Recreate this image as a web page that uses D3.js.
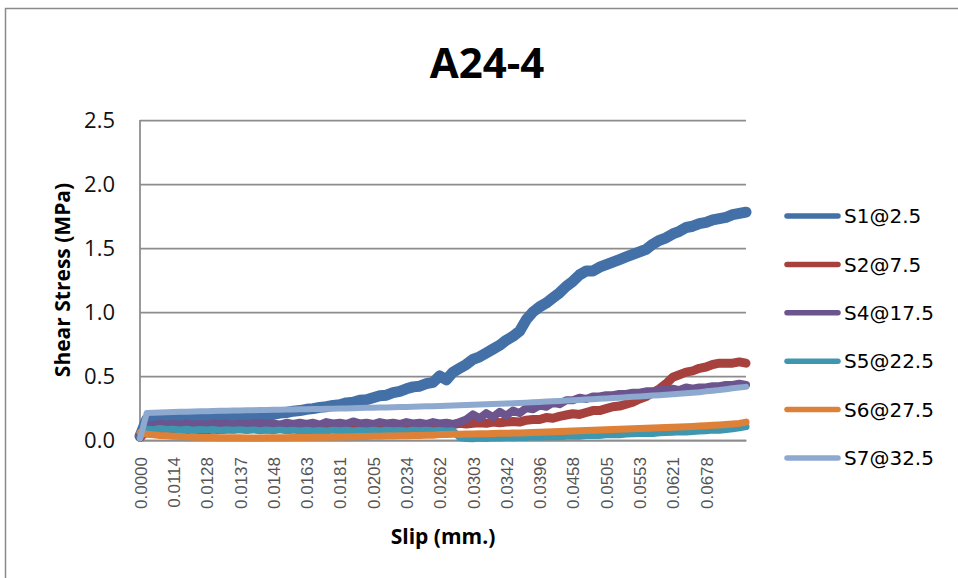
<!DOCTYPE html>
<html>
<head>
<meta charset="utf-8">
<script src="https://cdn.jsdelivr.net/npm/d3@7"></script>
<style>
  html, body { margin: 0; padding: 0; background: #fff; }
  svg { display: block; }
</style>
</head>
<body>
<svg id="chart" width="958" height="578"></svg>
<script>
// Slip labels shown on the category axis (one every 5 samples)
const slipLabels = ["0.0000","0.0114","0.0128","0.0137","0.0148","0.0163","0.0181","0.0205","0.0234",
  "0.0262","0.0303","0.0342","0.0396","0.0458","0.0505","0.0553","0.0621","0.0678"];
const samplesPerLabel = 5;

const seriesNames = ["S1@2.5","S2@7.5","S4@17.5","S5@22.5","S6@27.5","S7@32.5"];
const seriesColors = ["#4470a8","#a6413e","#6c548e","#3f97af","#dd8138","#8ea9d0"];
const seriesWidths = [11, 9, 8, 7, 7, 6];
const yTicks = [0, 0.5, 1.0, 1.5, 2.0, 2.5];

// Shear stress (MPa) per sample
const s1 = [
  0.03, 0.16, 0.165, 0.17, 0.16,
  0.17, 0.165, 0.175, 0.17, 0.18,
  0.175, 0.185, 0.18, 0.19, 0.185,
  0.19, 0.185, 0.195, 0.19, 0.20,
  0.20, 0.21, 0.215, 0.225, 0.23,
  0.24, 0.245, 0.255, 0.26, 0.27,
  0.275, 0.29, 0.295, 0.31, 0.315,
  0.33, 0.345, 0.35, 0.37, 0.38,
  0.40, 0.415, 0.42, 0.44, 0.45,
  0.50, 0.47, 0.53, 0.56, 0.59,
  0.63, 0.65, 0.68, 0.71, 0.74,
  0.78, 0.81, 0.85, 0.94, 1.00,
  1.04, 1.07, 1.11, 1.15, 1.20,
  1.24, 1.29, 1.32, 1.32, 1.35,
  1.37, 1.39, 1.41, 1.43, 1.45,
  1.47, 1.49, 1.53, 1.56, 1.58,
  1.61, 1.63, 1.66, 1.67, 1.69,
  1.70, 1.72, 1.73, 1.74, 1.76,
  1.77, 1.78
];
const s2 = [
  0.02, 0.07, 0.075, 0.07, 0.075,
  0.08, 0.075, 0.08, 0.085, 0.08,
  0.08, 0.085, 0.08, 0.085, 0.085,
  0.09, 0.085, 0.09, 0.09, 0.085,
  0.09, 0.095, 0.09, 0.095, 0.095,
  0.10, 0.095, 0.10, 0.10, 0.105,
  0.10, 0.105, 0.10, 0.11, 0.105,
  0.11, 0.105, 0.11, 0.115, 0.11,
  0.115, 0.11, 0.12, 0.115, 0.12,
  0.12, 0.125, 0.12, 0.13, 0.125,
  0.13, 0.135, 0.13, 0.14, 0.135,
  0.14, 0.145, 0.14, 0.155, 0.16,
  0.16, 0.175, 0.17, 0.185, 0.195,
  0.205, 0.20, 0.215, 0.23, 0.23,
  0.245, 0.26, 0.265, 0.28, 0.295,
  0.32, 0.34, 0.37, 0.40, 0.44,
  0.49, 0.51, 0.53, 0.54, 0.56,
  0.57, 0.59, 0.60, 0.60, 0.60,
  0.61, 0.60
];
const s4 = [
  0.03, 0.12, 0.115, 0.125, 0.12,
  0.125, 0.12, 0.13, 0.12, 0.125,
  0.12, 0.13, 0.125, 0.13, 0.12,
  0.13, 0.125, 0.13, 0.135, 0.125,
  0.13, 0.12, 0.135, 0.125, 0.135,
  0.125, 0.135, 0.12, 0.14, 0.13,
  0.135, 0.125, 0.145, 0.13, 0.135,
  0.125, 0.14, 0.13, 0.135, 0.125,
  0.14, 0.13, 0.135, 0.125, 0.14,
  0.13, 0.135, 0.125, 0.14, 0.16,
  0.20, 0.17, 0.21, 0.18, 0.22,
  0.19, 0.23, 0.21, 0.25, 0.24,
  0.27, 0.26, 0.29, 0.28, 0.31,
  0.31, 0.33, 0.32, 0.34, 0.34,
  0.35, 0.35, 0.36, 0.36, 0.37,
  0.37, 0.38, 0.38, 0.39, 0.39,
  0.40, 0.39, 0.41, 0.40, 0.41,
  0.41, 0.42, 0.42, 0.43, 0.43,
  0.44, 0.43
];
const s5 = [
  0.02, 0.085, 0.08, 0.09, 0.082,
  0.085, 0.078, 0.084, 0.076, 0.082,
  0.078, 0.083, 0.075, 0.08, 0.076,
  0.081, 0.074, 0.079, 0.073, 0.078,
  0.072, 0.079, 0.073, 0.077, 0.071,
  0.076, 0.07, 0.075, 0.071, 0.077,
  0.072, 0.076, 0.07, 0.075, 0.071,
  0.076, 0.071, 0.077, 0.072, 0.075,
  0.071, 0.076, 0.073, 0.077, 0.072,
  0.075, 0.071, 0.073, 0.02, 0.012,
  0.01, 0.015, 0.012, 0.018, 0.015,
  0.02, 0.018, 0.022, 0.02, 0.025,
  0.022, 0.026, 0.028, 0.025, 0.03,
  0.032, 0.03, 0.035, 0.038, 0.036,
  0.04, 0.043, 0.041, 0.046, 0.048,
  0.05, 0.053, 0.051, 0.056, 0.058,
  0.06, 0.064, 0.062, 0.067, 0.07,
  0.073, 0.078, 0.076, 0.082, 0.088,
  0.095, 0.105
];
const s6 = [
  0.06, 0.045, 0.04, 0.035, 0.033,
  0.03, 0.028, 0.025, 0.024, 0.022,
  0.02, 0.02, 0.018, 0.018, 0.017,
  0.017, 0.016, 0.016, 0.016, 0.017,
  0.017, 0.018, 0.018, 0.019, 0.02,
  0.02, 0.021, 0.022, 0.022, 0.023,
  0.024, 0.025, 0.026, 0.027, 0.028,
  0.029, 0.03, 0.031, 0.032, 0.033,
  0.034, 0.035, 0.036, 0.037, 0.038,
  0.042, 0.043, 0.044, 0.045, 0.046,
  0.047, 0.048, 0.049, 0.05, 0.052,
  0.053, 0.054, 0.055, 0.057, 0.058,
  0.06, 0.062, 0.064, 0.066, 0.068,
  0.07, 0.072, 0.074, 0.076, 0.078,
  0.08, 0.082, 0.084, 0.086, 0.088,
  0.09, 0.092, 0.094, 0.096, 0.098,
  0.10, 0.102, 0.104, 0.106, 0.109,
  0.112, 0.115, 0.118, 0.121, 0.125,
  0.13, 0.14
];
const s7 = [
  0.01, 0.21, 0.212, 0.214, 0.216,
  0.218, 0.22, 0.221, 0.222, 0.224,
  0.225, 0.226, 0.228, 0.229, 0.23,
  0.231, 0.232, 0.233, 0.234, 0.235,
  0.236, 0.237, 0.238, 0.239, 0.24,
  0.241, 0.242, 0.243, 0.244, 0.245,
  0.246, 0.247, 0.248, 0.25, 0.251,
  0.252, 0.253, 0.254, 0.256, 0.257,
  0.258, 0.26, 0.261, 0.263, 0.264,
  0.266, 0.268, 0.27, 0.271, 0.273,
  0.275, 0.277, 0.279, 0.281, 0.283,
  0.285, 0.287, 0.29, 0.292, 0.295,
  0.297, 0.30, 0.302, 0.305, 0.308,
  0.31, 0.313, 0.316, 0.319, 0.322,
  0.325, 0.328, 0.331, 0.334, 0.337,
  0.34, 0.343, 0.347, 0.35, 0.354,
  0.357, 0.361, 0.365, 0.369, 0.373,
  0.38, 0.385, 0.39, 0.397, 0.404,
  0.41, 0.415
];
const seriesValues = [s1, s2, s4, s5, s6, s7];

const svg = d3.select("#chart");

// Chart frame
svg.append("rect")
  .attr("x", 5.5).attr("y", 8.5).attr("width", 1000).attr("height", 1000)
  .attr("fill", "#fff").attr("stroke", "#8a8a8a").attr("stroke-width", 1.5);

const plot = { left: 140, right: 746, top: 120, bottom: 440 };

const x = d3.scaleLinear().domain([0, s1.length - 1]).range([plot.left, plot.right]);
const y = d3.scaleLinear().domain([0, 2.5]).range([plot.bottom, plot.top]);

// Horizontal gridlines + value labels
const yAxis = svg.append("g")
  .attr("transform", `translate(${plot.left},0)`)
  .call(d3.axisLeft(y).tickValues(yTicks).tickFormat(d3.format(".1f"))
    .tickSize(-(plot.right - plot.left)).tickPadding(25));
yAxis.select(".domain").remove();
yAxis.selectAll(".tick line").attr("stroke", "#8c8c8c").attr("stroke-width", 1.75);
yAxis.selectAll(".tick text")
  .attr("font-family", "Open Sans").attr("font-size", 22).attr("fill", "#111").attr("dy", "0.34em");

// Vertical axis line
svg.append("line")
  .attr("x1", plot.left).attr("x2", plot.left).attr("y1", plot.top).attr("y2", plot.bottom)
  .attr("stroke", "#8c8c8c").attr("stroke-width", 1.75);

// Category axis with rotated slip labels
const xAxis = svg.append("g")
  .attr("transform", `translate(0,${plot.bottom})`)
  .call(d3.axisBottom(x)
    .tickValues(d3.range(slipLabels.length).map(i => i * samplesPerLabel))
    .tickFormat(d => slipLabels[d / samplesPerLabel])
    .tickSize(0));
xAxis.select(".domain").attr("stroke", "#8c8c8c").attr("stroke-width", 1.75);
xAxis.selectAll(".tick text")
  .attr("transform", "rotate(-90)")
  .attr("text-anchor", "end")
  .attr("x", -17).attr("y", 0).attr("dy", "0.36em")
  .attr("font-family", "Liberation Sans, Arial, sans-serif").attr("font-size", 17).attr("fill", "#555");

// Series lines
const line = d3.line().x((d, i) => x(i)).y(d => y(d));
svg.append("g").selectAll("path")
  .data(seriesValues)
  .join("path")
  .attr("d", line)
  .attr("fill", "none")
  .attr("stroke", (d, i) => seriesColors[i])
  .attr("stroke-width", (d, i) => seriesWidths[i])
  .attr("stroke-linejoin", "round")
  .attr("stroke-linecap", "round");

// Titles
svg.append("text")
  .attr("x", 487).attr("y", 78).attr("text-anchor", "middle")
  .attr("font-family", "Open Sans").attr("font-weight", "bold").attr("font-size", 42)
  .attr("fill", "#000").text("A24-4");

svg.append("text")
  .attr("transform", "translate(70,280) rotate(-90)").attr("text-anchor", "middle")
  .attr("font-family", "Open Sans").attr("font-weight", "bold").attr("font-size", 21)
  .attr("fill", "#000").text("Shear Stress (MPa)");

svg.append("text")
  .attr("x", 443).attr("y", 544).attr("text-anchor", "middle")
  .attr("font-family", "Open Sans").attr("font-weight", "bold").attr("font-size", 21)
  .attr("fill", "#000").text("Slip (mm.)");

// Legend
const legendY = d3.scaleLinear().domain([0, seriesNames.length - 1]).range([216, 458]);
const legend = svg.append("g").selectAll("g")
  .data(seriesNames)
  .join("g")
  .attr("transform", (d, i) => `translate(0,${legendY(i)})`);
legend.append("line")
  .attr("x1", 787).attr("x2", 838).attr("y1", 0).attr("y2", 0)
  .attr("stroke", (d, i) => seriesColors[i]).attr("stroke-width", 5.5).attr("stroke-linecap", "round");
legend.append("text")
  .attr("x", 844).attr("y", 0).attr("dy", "0.36em")
  .attr("font-family", "DejaVu Sans").attr("font-size", 20).attr("fill", "#000")
  .text(d => d);
</script>
</body>
</html>
